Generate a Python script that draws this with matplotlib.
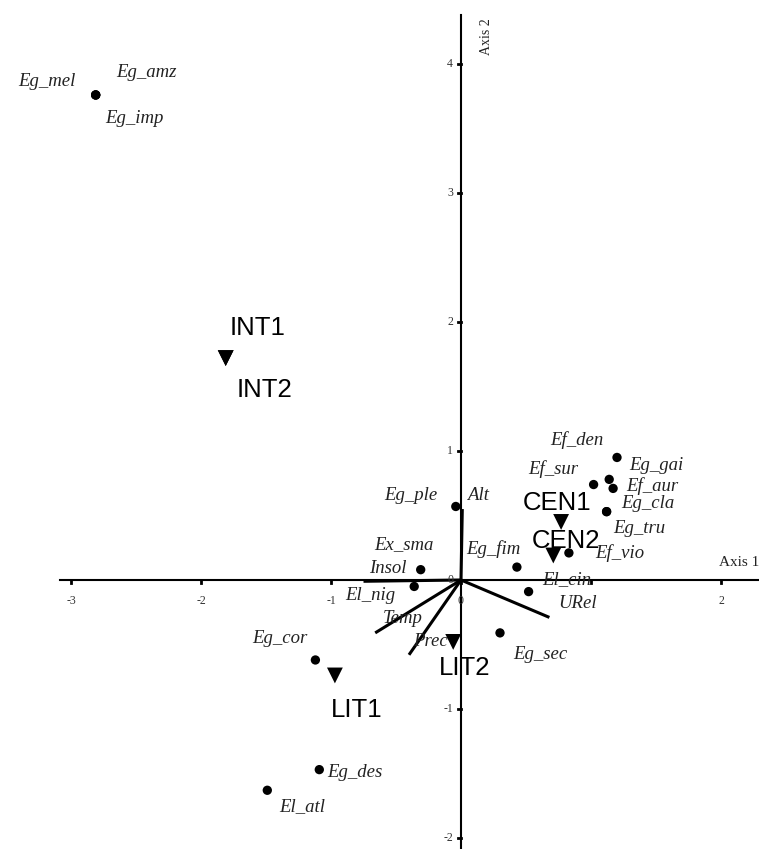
import matplotlib
matplotlib.use("Agg")
import matplotlib.pyplot as plt
from matplotlib.transforms import offset_copy

# ---- data ----
species = ["Eg_mel", "Eg_amz", "Eg_imp", "Eg_ple", "Ex_sma", "El_nig", "Eg_fim",
           "El_cin", "Ef_vio", "Ef_den", "Eg_gai", "Ef_aur", "Ef_sur", "Eg_cla",
           "Eg_tru", "Eg_sec", "Eg_cor", "Eg_des", "El_atl"]
sp_x = [-2.81, -2.81, -2.81, -0.04, -0.31, -0.36, 0.43, 0.52, 0.83, 1.20, 1.14,
        1.17, 1.02, 1.12, 1.12, 0.30, -1.12, -1.09, -1.49]
sp_y = [3.76, 3.76, 3.76, 0.57, 0.08, -0.05, 0.10, -0.09, 0.21, 0.95, 0.78,
        0.71, 0.74, 0.53, 0.53, -0.41, -0.62, -1.47, -1.63]

sites = ["INT1", "INT2", "CEN1", "CEN2", "LIT1", "LIT2"]
site_x = [-1.81, -1.81, 0.77, 0.71, -0.97, -0.06]
site_y = [1.72, 1.72, 0.45, 0.19, -0.74, -0.48]

env = ["Alt", "Insol", "Temp", "Prec", "URel"]
env_x = [0.01, -0.75, -0.66, -0.40, 0.68]
env_y = [0.55, -0.01, -0.41, -0.58, -0.29]

xticks = [-3, -2, -1, 0, 1, 2]
xtick_labels = ["-3", "-2", "-1", "0", "", "2"]   # "1" is hidden under URel
yticks = [-2, -1, 0, 1, 2, 3, 4]
ytick_labels = ["-2", "-1", "0", "1", "2", "3", "4"]

# ---- label offsets (pixels, y up) ----
sp_off = {"Eg_mel": (-49, 13), "Eg_amz": (51, 22), "Eg_imp": (39, -24),
          "Eg_ple": (-45, 11), "Ex_sma": (-17, 25), "El_nig": (-44, -9),
          "Eg_fim": (-24, 18), "El_cin": (38, 12), "Ef_vio": (51, 0),
          "Ef_den": (-40, 17), "Eg_gai": (47, 14), "Ef_aur": (39, 2),
          "Ef_sur": (-40, 15), "Eg_cla": (41, 8), "Eg_tru": (33, -17),
          "Eg_sec": (40, -22), "Eg_cor": (-36, 21), "Eg_des": (36, -3),
          "El_atl": (35, -16)}
env_off = {"Alt": (16, 14), "Insol": (24, 13), "Temp": (28, 14),
           "Prec": (21, 13), "URel": (28, 14)}
site_off = {"INT1": (32, 30), "INT2": (39, -32), "CEN1": (-4, 19),
            "CEN2": (13, 14), "LIT1": (22, -35), "LIT2": (11, -26)}

W, H = 759, 849
fig = plt.figure(figsize=(W / 100, H / 100), dpi=100)
ax = fig.add_axes([0, 0, 1, 1])
sx, sy = 130.0, 129.0
ox, oy = 461.0, 580.0
ax.set_xlim((0 - ox) / sx, (W - ox) / sx)
ax.set_ylim((oy - H) / sy, (oy - 0) / sy)
ax.axis("off")

serif = ["Liberation Serif", "DejaVu Serif"]
sans = ["Liberation Sans", "DejaVu Sans"]
lab_fs = 13.5
site_fs = 18.5


def off(dx, dy):
    return offset_copy(ax.transData, fig=fig, x=dx, y=dy, units="dots")


# axes lines
ax.plot([(60 - ox) / sx, (W - ox) / sx], [0, 0], color="black", lw=1.5, zorder=1)
ax.plot([0, 0], [(oy - H) / sy, (oy - 15) / sy], color="black", lw=1.5, zorder=1)

# ticks
for t, lab in zip(xticks, xtick_labels):
    ax.plot([t, t], [0, -3 / sy], color="black", lw=2, zorder=1)
    if lab:
        ax.text(t, 0, lab, transform=off(0, -21), ha="center", va="center",
                fontsize=8.5, family=serif, color="#333333")
for t, lab in zip(yticks, ytick_labels):
    ax.plot([0, -3 / sx], [t, t], color="black", lw=2, zorder=1)
    ax.text(0, t, lab, transform=off(-8, 0), ha="right", va="center",
            fontsize=8.5, family=serif, color="#333333")

ax.text((719 - ox) / sx, (oy - 563) / sy, "Axis 1", fontsize=11, family=serif,
        ha="left", va="center", color="#222222")
ax.text((487 - ox) / sx, (oy - 37) / sy, "Axis 2", fontsize=10, family=serif,
        rotation=90, ha="center", va="center", color="#222222")

# environmental vectors
for name, vx, vy in zip(env, env_x, env_y):
    ax.plot([0, vx], [0, vy], color="black", lw=2.2, zorder=2,
            solid_capstyle="butt")
    dx, dy = env_off[name]
    ax.text(vx, vy, name, transform=off(dx, dy), ha="center", va="center",
            fontsize=lab_fs, family=serif, style="italic", color="#222222", zorder=4)

# species
ax.scatter(sp_x, sp_y, s=45, color="black", zorder=3, edgecolors="none")
for name, x, y in zip(species, sp_x, sp_y):
    dx, dy = sp_off[name]
    ax.text(x, y, name, transform=off(dx, dy), ha="center", va="center",
            fontsize=lab_fs, family=serif, style="italic", color="#222222", zorder=4)

# sites
ax.scatter(site_x, site_y, s=130, marker="v", color="black", zorder=5,
           edgecolors="none")
for name, x, y in zip(sites, site_x, site_y):
    dx, dy = site_off[name]
    ax.text(x, y, name, transform=off(dx, dy), ha="center", va="center",
            fontsize=site_fs, family=sans, color="black", zorder=4)

fig.savefig("out.png", dpi=100, facecolor="white")
